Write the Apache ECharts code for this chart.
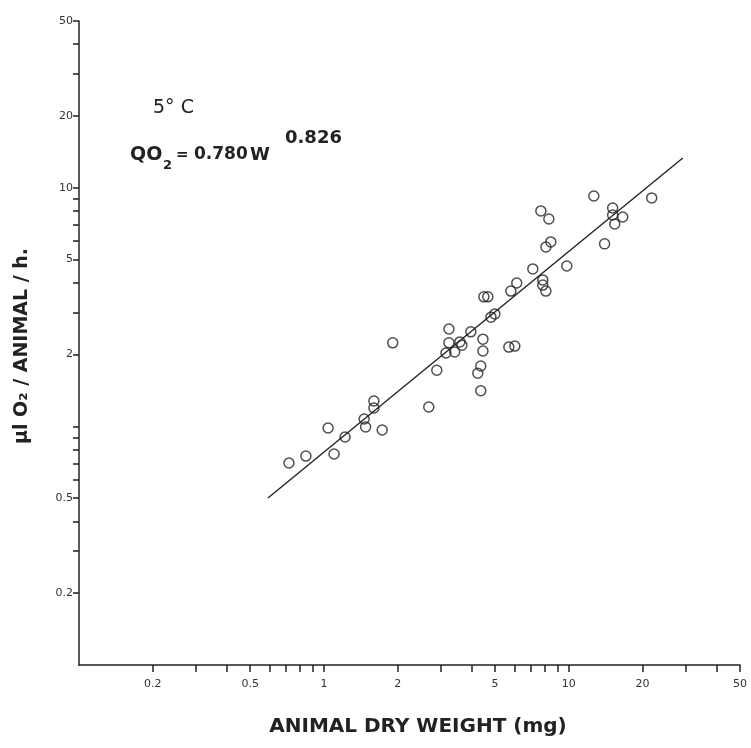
<!DOCTYPE html>
<html><head><meta charset="utf-8">
<script src="https://cdn.jsdelivr.net/npm/echarts@6/dist/echarts.min.js"></script>
<style>html,body{margin:0;padding:0;background:#fff}#c{width:751px;height:748px}</style>
</head><body><div id="c"></div>
<script>
// animal dry weight (mg)
const weights = [0.72, 0.844, 1.04, 1.10, 1.22, 1.46, 1.48, 1.60, 1.60, 1.73, 1.91, 2.68, 2.89, 3.24, 3.24, 3.15, 3.42, 3.59, 3.66, 3.98, 4.46, 4.46, 4.37, 4.25, 4.37, 4.50, 4.67, 4.81, 4.99, 5.69, 6.02, 5.80, 6.13, 7.13, 7.83, 7.83, 8.06, 9.81, 7.69, 8.29, 8.44, 8.06, 12.65, 14.0, 15.1, 15.1, 16.6, 15.4, 21.8];
// µl O2 / animal / h
const rates = [0.702, 0.751, 0.985, 0.766, 0.903, 1.074, 0.994, 1.278, 1.194, 0.966, 2.24, 1.206, 1.72, 2.56, 2.24, 2.03, 2.05, 2.26, 2.19, 2.49, 2.32, 2.07, 1.79, 1.67, 1.41, 3.49, 3.49, 2.87, 2.96, 2.15, 2.17, 3.69, 3.99, 4.57, 4.11, 3.91, 3.69, 4.70, 8.00, 7.40, 5.93, 5.65, 9.24, 5.82, 8.23, 7.69, 7.54, 7.05, 9.07];
// fitted line end points
const fitX = [0.591, 29.2];
const fitY = [0.501, 13.33];
// ticks and labels
const xTickValues = [0.2, 0.3, 0.4, 0.5, 0.6, 0.7, 0.8, 0.9, 1, 2, 3, 4, 5, 6, 7, 8, 9, 10, 20, 30, 40, 50];
const xLabelValues = [0.2, 0.5, 1, 2, 5, 10, 20, 50];
const yTickValues = [0.2, 0.3, 0.4, 0.5, 0.6, 0.7, 0.8, 0.9, 1, 2, 3, 4, 5, 6, 7, 8, 9, 10, 20, 30, 40, 50];
const yLabelValues = [0.2, 0.5, 2, 5, 10, 20, 50];

const ink = '#222';
const fmt = v => String(+(+v).toPrecision(4));
const chart = echarts.init(document.getElementById('c'), null, {renderer: 'canvas'});
chart.setOption({
  animation: false,
  backgroundColor: '#fff',
  grid: {left: 79, right: 11, top: 21, bottom: 83, containLabel: false, outerBoundsMode: 'none'},
  xAxis: {
    type: 'log', logBase: 10, min: 0.1, max: 50,
    axisLine: {show: true, lineStyle: {color: ink, width: 1.5}},
    axisTick: {show: true, inside: false, length: 7, customValues: xTickValues, lineStyle: {color: ink, width: 1.5}},
    axisLabel: {customValues: xLabelValues, formatter: fmt, margin: 14, fontSize: 11, color: '#333', fontFamily: 'DejaVu Sans'},
    splitLine: {show: false}, minorTick: {show: false}, minorSplitLine: {show: false}
  },
  yAxis: {
    type: 'log', logBase: 10, min: 0.1, max: 50,
    axisLine: {show: true, lineStyle: {color: ink, width: 1.5}},
    axisTick: {show: true, inside: false, length: 6, customValues: yTickValues, lineStyle: {color: ink, width: 1.5}},
    axisLabel: {customValues: yLabelValues, formatter: fmt, margin: 6, fontSize: 11, color: '#333', fontFamily: 'DejaVu Sans', padding: [0, 0, 6, 0]},
    splitLine: {show: false}, minorTick: {show: false}, minorSplitLine: {show: false}
  },
  series: [
    {
      type: 'line', data: fitX.map((x, i) => [x, fitY[i]]), showSymbol: false, symbol: 'none',
      lineStyle: {color: ink, width: 1.4}, z: 2
    },
    {
      type: 'scatter', data: weights.map((w, i) => [w, rates[i]]), symbol: 'circle', symbolSize: 10,
      itemStyle: {color: 'rgba(0,0,0,0)', borderColor: ink, borderWidth: 1.5}, z: 3
    }
  ],
  graphic: [
    {type: 'text', x: 153, y: 108, style: {text: '5° C', font: 'normal 19px "DejaVu Sans"', fill: ink, verticalAlign: 'middle', align: 'left'}},
    {type: 'text', x: 130, y: 155, style: {text: 'QO', font: 'bold 19px "DejaVu Sans"', fill: ink, verticalAlign: 'middle', align: 'left'}},
    {type: 'text', x: 163, y: 166, style: {text: '2', font: 'bold 13px "DejaVu Sans"', fill: ink, verticalAlign: 'middle', align: 'left'}},
    {type: 'text', x: 176, y: 155, style: {text: '=', font: 'bold 15px "DejaVu Sans"', fill: ink, verticalAlign: 'middle', align: 'left'}},
    {type: 'text', x: 194, y: 155, style: {text: '0.780', font: 'bold 17px "DejaVu Sans"', fill: ink, verticalAlign: 'middle', align: 'left'}},
    {type: 'text', x: 250, y: 155, style: {text: 'W', font: 'bold 18px "DejaVu Sans"', fill: ink, verticalAlign: 'middle', align: 'left'}},
    {type: 'text', x: 285, y: 138, style: {text: '0.826', font: 'bold 18px "DejaVu Sans"', fill: ink, verticalAlign: 'middle', align: 'left'}},
    {type: 'text', x: 418, y: 727, style: {text: 'ANIMAL DRY WEIGHT (mg)', font: 'bold 20px "DejaVu Sans"', fill: ink, verticalAlign: 'middle', align: 'center'}},
    {type: 'text', x: 22, y: 346, rotation: Math.PI / 2, style: {text: 'µl O₂ / ANIMAL / h.', font: 'bold 19px "DejaVu Sans"', fill: ink, verticalAlign: 'middle', align: 'center'}}
  ]
});
</script></body></html>
